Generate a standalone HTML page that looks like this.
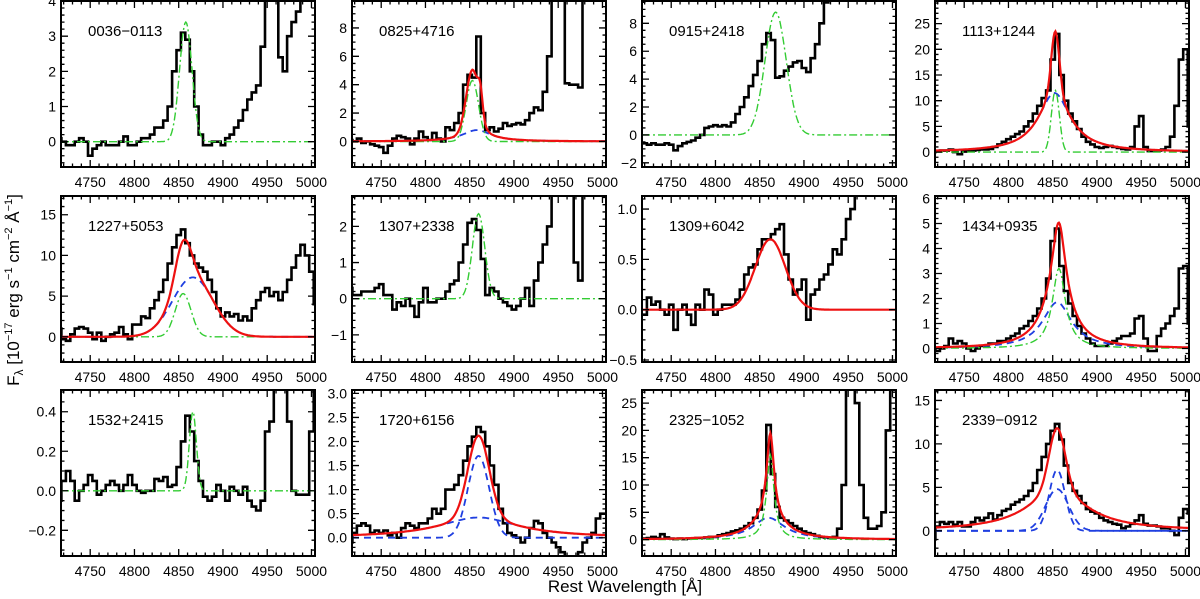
<!DOCTYPE html>
<html><head><meta charset="utf-8">
<style>
html,body{margin:0;padding:0;background:#fff;}
svg{display:block;font-family:"Liberation Sans",sans-serif;}
</style></head>
<body>
<svg id="fig" width="1200" height="599" viewBox="0 0 1200 599" xmlns="http://www.w3.org/2000/svg">
<text transform="translate(19,290) rotate(-90)" text-anchor="middle" font-size="17">F<tspan font-size="12" dy="4">λ</tspan><tspan dy="-4"> [10</tspan><tspan font-size="11" dy="-7">−17</tspan><tspan dy="7"> erg s</tspan><tspan font-size="11" dy="-7">−1</tspan><tspan dy="7"> cm</tspan><tspan font-size="11" dy="-7">−2</tspan><tspan dy="7"> Å</tspan><tspan font-size="11" dy="-7">−1</tspan><tspan dy="7">]</tspan></text>
<text x="625" y="592" text-anchor="middle" font-size="17">Rest Wavelength [Å]</text>
</svg>
<script>
// wavelength grid start/step (Å)
const waveStart = 4715, waveStep = 5;
const xTickLabels = [4750, 4800, 4850, 4900, 4950, 5000];
const names = ["0036−0113","0825+4716","0915+2418","1113+1244","1227+5053","1307+2338","1309+6042","1434+0935","1532+2415","1720+6156","2325−1052","2339−0912"];
const yMins = [-0.72,-1.8,-2.3,-2.9,-3.1,-1.75,-0.52,-0.54,-0.33,-0.38,-3.0,-2.9];
const yMaxs = [4.0,9.9,9.6,29.4,17.3,2.84,1.13,6.1,0.51,3.07,27.4,16.2];
const yTickVals = [[0,1,2,3,4],[0,2,4,6,8],[-2,0,2,4,6,8],[0,5,10,15,20,25],[0,5,10,15],[-1,0,1,2],[-0.5,0,0.5,1.0],[0,1,2,3,4,5,6],[-0.2,0,0.2,0.4],[0,0.5,1,1.5,2,2.5,3],[0,5,10,15,20,25],[0,5,10,15]];
const yTickLabels = [["0","1","2","3","4"],["0","2","4","6","8"],["−2","0","2","4","6","8"],["0","5","10","15","20","25"],["0","5","10","15"],["−1","0","1","2"],["−0.5","0.0","0.5","1.0"],["0","1","2","3","4","5","6"],["−0.2","0.0","0.2","0.4"],["0.0","0.5","1.0","1.5","2.0","2.5","3.0"],["0","5","10","15","20","25"],["0","5","10","15"]];
const yMinorSteps = [0.2,0.5,0.5,1,1,0.2,0.1,0.2,0.05,0.1,1,1];

const flux0036 = [0.1,0.0,-0.1,-0.1,0.0,0.1,0.0,-0.4,-0.2,-0.1,0.0,-0.1,-0.1,-0.1,0.0,0.15,-0.1,-0.1,0.0,0.1,0.1,0.2,0.4,0.4,0.6,1.0,2.0,2.6,3.1,2.9,2.0,1.0,0.2,-0.1,-0.1,0.0,0.0,-0.1,0.1,0.2,0.4,0.6,0.9,1.2,1.4,1.6,2.7,5,5,5,2.4,2.0,3.0,3.4,3.7,4.2,5,5,5];
const flux0825 = [0.1,0.0,0.2,-0.1,0.0,-0.2,-0.3,-0.4,-0.8,-0.3,0.2,0.4,0.3,0.2,-0.2,0.2,0.7,0.3,0.1,0.6,0.2,0.0,1.0,0.8,1.3,2.0,4.0,4.7,4.5,7.4,2.0,0.8,1.0,0.7,0.9,1.3,1.1,1.2,1.3,1.2,1.5,2.0,2.4,2.2,3.5,6.0,11,11,11,4.1,4.0,4.0,3.8,11,11,11,11,11,11];
const flux0915 = [-0.6,-0.6,-0.7,-0.6,-0.7,-0.7,-0.6,-0.7,-1.1,-0.8,-0.6,-0.5,-0.4,-0.2,0.0,0.5,0.6,0.7,0.6,0.7,0.6,0.9,1.5,2.0,2.7,3.5,4.3,5.3,6.5,7.3,6.8,4.1,4.2,4.6,4.9,5.2,5.3,4.8,4.5,5.5,6.5,8.0,9.5,11,11,11,11,11,11,11,11,11,11,11,11,11,11,11,11];
const flux1113 = [0,0.2,0.3,0.3,0.5,0.0,-0.4,0.1,0.2,0.3,0.4,0.5,0.5,0.6,1.0,1.5,2.0,2.5,3.0,3.5,4.0,5.0,6.0,7.5,9.0,10.5,12,18,23,15,10,7.5,6,4.5,3,2,1.5,1.0,0.8,1.0,1.2,1.0,0.8,0.6,0.5,1.0,5,7,1,0.2,0.2,0.3,0.5,1.0,3,9,18,20,5];
const flux1227 = [1.0,-0.3,-0.5,0.3,1.0,1.2,1.0,0.5,-0.3,0.5,-0.5,0.0,0.3,0.5,1.2,0.3,-0.3,1.5,1.5,2.5,2.3,3.5,4.5,5.5,7,9,11,12.5,13.2,11.5,10,9,8.5,8,7,5.5,3.5,2.5,3.0,2.5,2.8,2.0,2.5,2.0,3.5,4.5,5.5,6,5,5.5,4.5,5.5,7,8.5,10,11.3,10,8,4];
const flux1307 = [0.3,0.1,0.1,0.2,0.2,0.2,0.3,0.4,0.1,0.1,-0.3,-0.1,-0.2,0.0,-0.2,-0.5,-0.1,0.3,-0.1,-0.1,0.0,0.0,0.2,0.4,0.5,1.0,1.5,2.1,2.2,1.9,1.1,0.1,0.3,0.2,0.0,-0.1,-0.2,-0.3,-0.2,0.0,0.3,-0.2,0.5,1.0,1.5,2.0,3,3,3,3,3,1.0,0.5,3,3,3,3,3,3];
const flux1309 = [-0.05,-0.05,0.12,0.05,0.08,0.0,-0.05,0.05,-0.2,0.0,0.05,-0.05,-0.15,0.05,0.0,0.2,0.15,-0.05,0.0,0.05,0.05,0.05,0.1,0.2,0.35,0.42,0.45,0.6,0.7,0.7,0.75,0.8,0.85,0.55,0.3,0.15,0.2,0.3,-0.1,0.15,0.2,0.3,0.35,0.45,0.6,0.55,0.7,0.9,1.0,1.2,1.3,1.3,1.3,1.3,1.3,1.3,1.3,1.3,1.3];
const flux1434 = [0.0,-0.1,0.0,0.1,0.4,0.2,0.3,0.2,0.0,-0.1,0.0,0.1,0.1,0.2,0.2,0.3,0.3,0.4,0.5,0.6,0.8,0.9,1.1,1.3,1.6,2.0,2.8,4.3,4.8,3.3,2.3,1.8,1.3,0.9,0.6,0.4,0.2,0.1,0.1,0.1,0.2,0.3,0.4,0.5,0.5,0.6,1.2,1.3,0.4,-0.1,-0.1,0.5,0.8,1.0,1.3,1.6,3.2,3.3,1.0];
const flux1532 = [-0.05,0.05,0.1,0.05,-0.05,0.0,0.03,0.08,0.05,-0.02,0.0,0.03,0.05,0.03,0.0,0.03,0.08,0.03,0.0,-0.01,0.0,0.0,0.06,0.05,0.07,0.02,0.03,0.12,0.25,0.38,0.3,0.15,0.05,-0.03,-0.05,-0.03,0.03,0.0,-0.05,0.02,0.0,-0.02,0.02,-0.05,-0.08,-0.1,-0.05,0.3,0.35,0.6,0.6,0.6,0.35,0.0,-0.02,-0.02,-0.02,0.3,0.5];
const flux1720 = [-0.1,0.1,0.25,0.3,0.25,0.1,0.15,0.1,0.15,0.05,0.1,0.0,0.2,0.3,0.25,0.2,0.3,0.3,0.4,0.6,0.5,0.6,1.0,1.0,1.1,1.3,1.6,1.9,2.1,2.3,2.2,1.9,1.5,1.1,0.6,0.3,0.1,0.05,0.0,-0.1,0.0,0.2,0.35,0.3,0.1,0.0,-0.1,-0.2,-0.3,-0.5,-0.6,-0.5,-0.3,-0.1,0.0,0.1,0.4,0.5,0.5];
const flux2325 = [0.2,0.2,0.3,0.5,0.3,1.0,0.4,0.2,0.1,0.2,0.1,0.2,0.2,0.3,0.3,0.4,0.5,0.5,0.8,1.0,1.2,1.5,1.7,2.0,2.5,3.0,4.0,5.5,9,21,12,6,4,3.5,3,2.5,2,1.5,1.2,1.0,0.7,0.5,0.4,0.3,0.5,2,10,30,30,25,10,4,2,2,2.5,5,20,30,30];
const flux2339 = [-1,0.5,1.0,0.8,1.0,0.7,1.0,0.5,0.5,1.0,1.5,1.2,1.5,2.0,1.3,1.8,2.3,2.5,3.0,3.3,3.6,4.0,4.6,5.5,7.0,8.5,10,11.5,12.3,10.5,7.5,5.5,4.6,4.0,3.2,2.5,2.2,2.0,1.5,1.2,1.0,0.8,0.7,0.3,0.5,0.8,1.2,1.8,0.8,0.6,0.6,0.5,0.3,0.3,0.0,-0.5,1.5,2.5,2.0];
const fluxes = [flux0036,flux0825,flux0915,flux1113,flux1227,flux1307,flux1309,flux1434,flux1532,flux1720,flux2325,flux2339];

// model components: [type, amplitude, centre Å, width Å]  (g = gaussian sigma, l = lorentzian hwhm)
const greenComps = [[["g",3.4,4858,7]],[["g",4.3,4853,7]],[["g",8.8,4868,12]],[["g",12,4853,4.5]],[["g",5.3,4855,9]],[["g",2.35,4860,7]],[],[["l",3.2,4857,9]],[["g",0.4,4866,4]],[],[["l",15.5,4862,5]],[]];
const blueComps = [[],[[["l",0.8,4858,20]]],[],[[["l",11.5,4852,22]]],[[["g",7.3,4866,23]]],[],[],[[["l",1.85,4855,20]]],[],[[["g",1.7,4860,12]],[["l",0.42,4860,55]]],[[["l",4,4860,22]]],[[["g",7,4855,9]],[["g",4.8,4855,13]]]];
const redComps = [null,[["g",4.3,4853,7],["g",1.5,4862,2.5],["l",0.8,4858,20]],null,[["l",11.5,4852,22],["g",12,4853,4.5]],[["g",7.3,4866,23],["g",5.3,4855,9]],null,[["g",0.7,4862,17]],[["l",1.85,4855,20],["l",3.2,4857,9]],null,[["g",1.7,4860,12],["l",0.42,4860,55]],[["l",4,4860,22],["l",15.5,4862,5]],[["g",7,4855,9],["l",4.8,4855,40]]];

const NS = "http://www.w3.org/2000/svg";
const svg = document.getElementById("fig");
const colLeft = [61,352,642,935], rowTop = [1,196,390], PW = 254, PH = 166;
const xMin = 4717, xMax = 5004;

function mk(tag, attrs, parent){const e=document.createElementNS(NS,tag);for(const k in attrs)e.setAttribute(k,attrs[k]);(parent||svg).appendChild(e);return e;}
function evalComps(comps, w){let s=0;for(const c of comps){const d=w-c[2];s+= c[0]==="g"? c[1]*Math.exp(-d*d/(2*c[3]*c[3])) : c[1]/(1+(d/c[3])*(d/c[3]));}return s;}

for(let p=0;p<12;p++){
  const L=colLeft[p%4], T=rowTop[Math.floor(p/4)];
  const xs = w => L + (w-xMin)/(xMax-xMin)*PW;
  const ys = v => T + PH - (v-yMins[p])/(yMaxs[p]-yMins[p])*PH;
  const g = mk("g",{});
  
  
  const cp = mk("clipPath",{id:"cp"+p},g); mk("rect",{x:L,y:T,width:PW,height:PH},cp);
  const plot = mk("g",{"clip-path":"url(#cp"+p+")"},g);
  const f = fluxes[p]; let d="";
  for(let i=0;i<f.length;i++){const w=waveStart+i*waveStep;const x0=xs(w-waveStep/2),x1=xs(w+waveStep/2),y=ys(f[i]);d+=(i===0?"M":"L")+x0.toFixed(1)+","+y.toFixed(1)+"L"+x1.toFixed(1)+","+y.toFixed(1);}
  const sp = mk("path",{d:d,fill:"none",stroke:"#000","stroke-width":2.6,"stroke-linejoin":"miter"},plot);
  
  
  function curve(comps,attrs,name){let dd="";for(let w=xMin;w<=xMax;w+=1){dd+=(w===xMin?"M":"L")+xs(w).toFixed(1)+","+ys(evalComps(comps,w)).toFixed(1);}
    const e=mk("path",Object.assign({d:dd,fill:"none"},attrs),plot);
    
    }
  for(const bc of blueComps[p]) curve(bc,{stroke:"#1f3fe0","stroke-width":1.8,"stroke-dasharray":"7,5"},'broad-component');
  if(greenComps[p].length) curve(greenComps[p],{stroke:"#33cc33","stroke-width":1.4,"stroke-dasharray":"8,3,2,3"},'narrow-component');
  if(redComps[p]) curve(redComps[p],{stroke:"#ee1111","stroke-width":2.2},'total-fit');
  const fr = mk("rect",{x:L,y:T,width:PW,height:PH,fill:"none",stroke:"#000","stroke-width":2},g);
  
  
  let td="";
  for(let w=4720;w<=xMax;w+=10){const x=xs(w);const len=(w%50===0)?7:3.5;td+=`M${x},${T+PH}v${-len}M${x},${T}v${len}`;}
  for(const w of xTickLabels){const t=mk("text",{x:xs(w),y:T+PH+20,"text-anchor":"middle","font-size":14},g);t.textContent=w;
    
    }
  const ms=yMinorSteps[p];
  for(let k=Math.ceil(yMins[p]/ms);k*ms<=yMaxs[p];k++){const v=k*ms;const y=ys(v);const major=yTickVals[p].some(t=>Math.abs(t-v)<ms*0.01);const len=major?7:3.5;td+=`M${L},${y}h${len}M${L+PW},${y}h${-len}`;}
  mk("path",{d:td,stroke:"#000","stroke-width":1.3,fill:"none"},g);
  yTickVals[p].forEach((v,i)=>{const t=mk("text",{x:L-5,y:ys(v)+5,"text-anchor":"end","font-size":14},g);t.textContent=yTickLabels[p][i];
    
    });
  const nm=mk("text",{x:L+27,y:T+35,"font-size":15},g);nm.textContent=names[p];
  
  
}
</script>
</body></html>
